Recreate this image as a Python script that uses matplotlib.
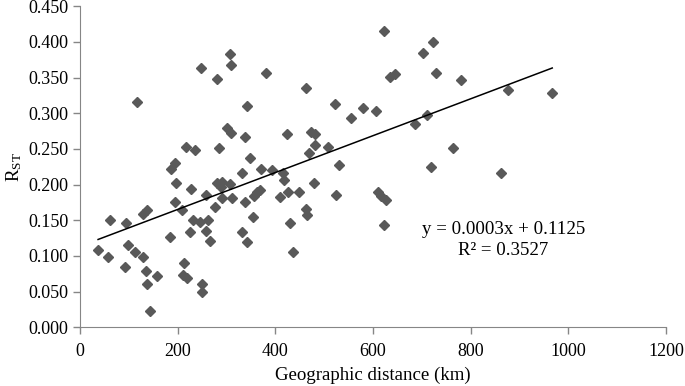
import numpy as np
import matplotlib
matplotlib.use("Agg")
import matplotlib.pyplot as plt

plt.rcParams["font.family"] = "Liberation Serif"
plt.rcParams["mathtext.fontset"] = "custom"
plt.rcParams["mathtext.rm"] = "Liberation Serif"
plt.rcParams["mathtext.it"] = "Liberation Serif:italic"

# geographic distance (km) vs pairwise R_ST
distance_km = [
    37, 57, 62, 92, 94, 98, 112, 116, 129, 128, 137, 135, 137, 143, 158,
    185, 186, 194, 196, 194, 208, 212, 211, 220, 217, 236, 228, 225, 232,
    247, 249, 249, 245, 257, 259, 262, 267, 277, 280, 285, 280, 290, 288,
    290, 300, 307, 310, 310, 308, 312, 331, 331, 337, 337, 342, 342, 348,
    354, 356, 363, 368, 370, 380, 393, 409, 415, 417, 423, 426, 431, 436,
    449, 462, 462, 464, 469, 474, 482, 482, 480, 508, 523, 525, 530, 555,
    580, 606, 611, 617, 626, 623, 623, 635, 645, 686, 703, 710, 718, 723,
    728, 763, 780, 863, 876, 967,
]
rst = [
    0.109, 0.099, 0.150, 0.084, 0.146, 0.116, 0.106, 0.316, 0.098, 0.159,
    0.165, 0.079, 0.061, 0.023, 0.072, 0.126, 0.222, 0.230, 0.203, 0.175,
    0.164, 0.090, 0.074, 0.069, 0.253, 0.248, 0.194, 0.133, 0.150, 0.364,
    0.061, 0.050, 0.147, 0.186, 0.135, 0.150, 0.121, 0.168, 0.348, 0.252,
    0.203, 0.204, 0.196, 0.181, 0.279, 0.383, 0.368, 0.272, 0.201, 0.181,
    0.217, 0.134, 0.267, 0.176, 0.310, 0.120, 0.238, 0.154, 0.184, 0.189,
    0.193, 0.222, 0.357, 0.220, 0.182, 0.216, 0.207, 0.271, 0.189, 0.146,
    0.105, 0.189, 0.336, 0.166, 0.157, 0.245, 0.274, 0.271, 0.255, 0.203,
    0.253, 0.313, 0.186, 0.227, 0.294, 0.308, 0.303, 0.189, 0.184, 0.179,
    0.415, 0.144, 0.351, 0.355, 0.285, 0.385, 0.298, 0.225, 0.400, 0.357,
    0.252, 0.346, 0.217, 0.333, 0.329,
]

x = np.array(distance_km, dtype=float)
y = np.array(rst)
slope, intercept = np.polyfit(x, y, 1)

fig = plt.figure(figsize=(6.85, 3.86), dpi=100)
ax = fig.add_axes([0.1168, 0.152, 0.8555, 0.8317])

ax.plot(x, y, ls="none", marker="D", ms=5.2, color="#595959", mec="#595959")
xl = np.array([x.min(), x.max()])
ax.plot(xl, slope * xl + intercept, color="black", lw=1.1)

ax.set_xlim(0, 1200)
ax.set_ylim(0, 0.45)
ax.set_xticks(np.arange(0, 1201, 200))
ax.set_yticks(np.arange(0, 0.451, 0.05))
ax.set_yticklabels([f"{v:.3f}" for v in np.arange(0, 0.451, 0.05)])
for s in ("top", "right"):
    ax.spines[s].set_visible(False)
for s in ("left", "bottom"):
    ax.spines[s].set_color("#868686")
ax.tick_params(colors="#868686", labelcolor="black", labelsize=13,
               length=5, width=1)
ax.tick_params(axis="x", pad=6)

ax.set_xlabel("Geographic distance (km)", fontsize=13.6, labelpad=5)
ax.set_ylabel(r"$\mathrm{R_{ST}}$", fontsize=13.6, labelpad=3)

ax.text(867, 0.1365, "y = 0.0003x + 0.1125", fontsize=13.6,
        ha="center", va="center")
ax.text(867, 0.108, "R² = 0.3527", fontsize=13.6, ha="center", va="center")

fig.savefig("out.png", dpi=100)
